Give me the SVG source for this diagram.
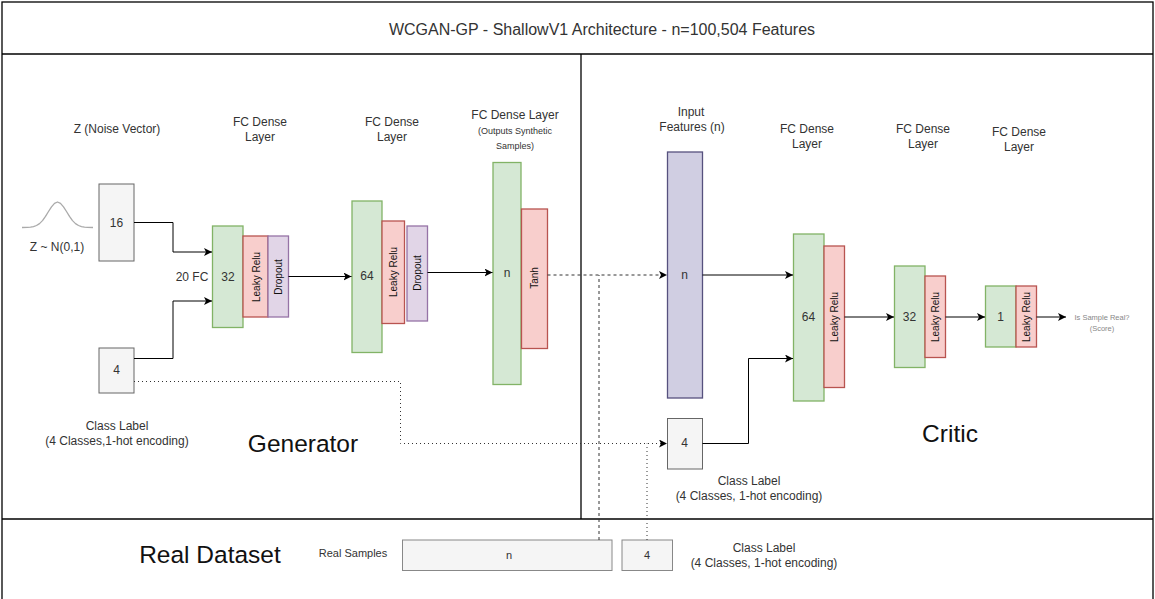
<svg xmlns="http://www.w3.org/2000/svg" width="1155" height="599" viewBox="0 0 1155 599">
<defs>
<style>
text{font-family:"Liberation Sans",Arial,sans-serif;fill:#333;dominant-baseline:central;text-anchor:middle}
.lbl{font-size:12px}
.sm{font-size:9px}
.big{font-size:24.5px;fill:#111}
.rot{font-size:10px;fill:#111}
.gray{fill:#f5f5f5;stroke:#666;stroke-width:1}
.green{fill:#d5e8d4;stroke:#82b366;stroke-width:1.3}
.red{fill:#f8cecc;stroke:#b85450;stroke-width:1.3}
.purple{fill:#e1d5e7;stroke:#9673a6;stroke-width:1.3}
.input{fill:#d0cee2;stroke:#56517e;stroke-width:1.3}
.frame{fill:none;stroke:#000;stroke-width:1.3}
.conn{fill:none;stroke:#000;stroke-width:1}
.dash{fill:none;stroke:#333;stroke-width:1;stroke-dasharray:3 3}
.dot{fill:none;stroke:#333;stroke-width:1;stroke-dasharray:1 3}
</style>
<marker id="arr" viewBox="0 0 10 10" refX="10" refY="5" markerWidth="8" markerHeight="8" markerUnits="userSpaceOnUse" orient="auto"><path d="M0,0 L10,5 L0,10 L2.5,5 Z" fill="#000"/></marker>
</defs>
<g id="frames">
<rect class="frame" x="2" y="2" width="1151" height="610"/>
<line class="frame" x1="2" y1="54" x2="1153" y2="54"/>
<line class="frame" x1="2" y1="519" x2="1153" y2="519"/>
<line class="frame" x1="581" y1="54" x2="581" y2="519"/>
<text x="602" y="29" style="font-size:16px">WCGAN-GP - ShallowV1 Architecture - n=100,504 Features</text>
<text class="big" x="303" y="443">Generator</text>
<text class="big" x="950" y="433">Critic</text>
<text class="big" x="210" y="554">Real Dataset</text>
</g>
<g id="gen-noise">
<polyline points="22,227.5 27.5,227.4 30.5,227.1 33.5,226.6 36.5,225.5 39.5,223.6 42.5,220.6 45.5,216.4 48.5,211.5 51.5,206.8 54.5,203.3 57.5,202 60.5,203.3 63.5,206.8 66.5,211.5 69.5,216.4 72.5,220.6 75.5,223.6 78.5,225.5 81.5,226.6 84.5,227.1 87.5,227.4 93,227.5" fill="none" stroke="#aaa" stroke-width="1.3" stroke-linejoin="round"/>
<text class="lbl" x="57" y="247">Z ~ N(0,1)</text>
<text class="lbl" x="117" y="129">Z (Noise Vector)</text>
<rect class="gray" x="99" y="184" width="35" height="77"/>
<text class="lbl" x="116.5" y="222.5">16</text>
</g>
<g id="gen-label">
<rect class="gray" x="99" y="348" width="35" height="45"/>
<text class="lbl" x="116.5" y="370">4</text>
<text class="lbl" x="117" y="426">Class Label</text>
<text class="lbl" x="117" y="441">(4 Classes,1-hot encoding)</text>
</g>
<g id="gen-fc1">
<text class="lbl" x="260" y="122">FC Dense</text>
<text class="lbl" x="260" y="137">Layer</text>
<text class="lbl" x="192" y="277">20 FC</text>
<rect class="green" x="212.5" y="226" width="30.5" height="101.5"/>
<text class="lbl" x="228" y="277">32</text>
<rect class="red" x="243" y="236" width="25" height="81"/>
<text class="rot" transform="translate(256 277) rotate(-90)">Leaky Relu</text>
<rect class="purple" x="268" y="236" width="20.5" height="81"/>
<text class="rot" transform="translate(278.5 277) rotate(-90)">Dropout</text>
</g>
<g id="gen-fc2">
<text class="lbl" x="392" y="122">FC Dense</text>
<text class="lbl" x="392" y="137">Layer</text>
<rect class="green" x="352" y="201" width="30" height="151.5"/>
<text class="lbl" x="367" y="276">64</text>
<rect class="red" x="382" y="221" width="22.5" height="102.5"/>
<text class="rot" transform="translate(393.5 272) rotate(-90)">Leaky Relu</text>
<rect class="purple" x="407" y="226" width="20.5" height="95"/>
<text class="rot" transform="translate(417.5 273) rotate(-90)">Dropout</text>
</g>
<g id="gen-fc3">
<text class="lbl" x="515" y="115">FC Dense Layer</text>
<text class="sm" x="515" y="131">(Outputs Synthetic</text>
<text class="sm" x="515" y="146">Samples)</text>
<rect class="green" x="493" y="162.5" width="28" height="222"/>
<text class="lbl" x="507" y="273">n</text>
<rect class="red" x="521.5" y="209" width="26" height="139.5"/>
<text class="rot" transform="translate(534.5 278) rotate(-90)">Tanh</text>
</g>
<g id="critic-input">
<text class="lbl" x="691" y="112">Input</text>
<text class="lbl" x="692" y="127">Features (n)</text>
<rect class="input" x="667.5" y="152" width="35" height="246"/>
<text class="lbl" x="684.5" y="275">n</text>
</g>
<g id="critic-label">
<rect class="gray" x="667.5" y="418.5" width="35" height="50.5"/>
<text class="lbl" x="684.5" y="443">4</text>
<text class="lbl" x="749" y="481">Class Label</text>
<text class="lbl" x="749" y="496">(4 Classes, 1-hot encoding)</text>
</g>
<g id="critic-fc1">
<text class="lbl" x="807" y="129">FC Dense</text>
<text class="lbl" x="807" y="144">Layer</text>
<rect class="green" x="793.5" y="234" width="30.5" height="167"/>
<text class="lbl" x="808.5" y="317">64</text>
<rect class="red" x="824" y="246" width="20.5" height="141.5"/>
<text class="rot" transform="translate(834.5 317) rotate(-90)">Leaky Relu</text>
</g>
<g id="critic-fc2">
<text class="lbl" x="923" y="129">FC Dense</text>
<text class="lbl" x="923" y="144">Layer</text>
<rect class="green" x="894.5" y="266" width="30.5" height="101.5"/>
<text class="lbl" x="909.5" y="317">32</text>
<rect class="red" x="925" y="276" width="20.5" height="81.5"/>
<text class="rot" transform="translate(935.5 317) rotate(-90)">Leaky Relu</text>
</g>
<g id="critic-fc3">
<text class="lbl" x="1019" y="132">FC Dense</text>
<text class="lbl" x="1019" y="147">Layer</text>
<rect class="green" x="985.5" y="286" width="30.5" height="61"/>
<text class="lbl" x="1000.5" y="317">1</text>
<rect class="red" x="1016" y="286" width="20.5" height="61"/>
<text class="rot" transform="translate(1026.5 317) rotate(-90)">Leaky Relu</text>
</g>
<g id="critic-output">
<text x="1102" y="317" style="font-size:7.5px;fill:#888">Is Sample Real?</text>
<text x="1102" y="328" style="font-size:7.5px;fill:#888">(Score)</text>
</g>
<g id="real-samples">
<text x="353" y="553" style="font-size:11px">Real Samples</text>
<rect x="402.5" y="540" width="209.5" height="30.5" fill="#f5f5f5" stroke="#888"/>
<text x="509" y="555" style="font-size:11px">n</text>
</g>
<g id="real-label">
<rect x="622" y="540" width="50.5" height="30.5" fill="#f5f5f5" stroke="#888"/>
<text x="647" y="555" style="font-size:11px">4</text>
<text class="lbl" x="764" y="548">Class Label</text>
<text class="lbl" x="764" y="563">(4 Classes, 1-hot encoding)</text>
</g>
<g id="connectors">
<path class="conn" d="M134,222.5 H173 V252 H212" marker-end="url(#arr)"/>
<path class="conn" d="M134,358.5 H173 V301 H212" marker-end="url(#arr)"/>
<path class="conn" d="M288.5,276.5 H351.5" marker-end="url(#arr)"/>
<path class="conn" d="M427.5,272.5 H492.5" marker-end="url(#arr)"/>
<path class="dash" d="M547.5,275 H667" marker-end="url(#arr)"/>
<path class="dash" d="M599,540 V275"/>
<path class="dot" d="M134,381.5 H400.5 V443.5 H667" marker-end="url(#arr)"/>
<path class="dot" d="M647,540 V443.5"/>
<path class="conn" d="M702.5,275 H793" marker-end="url(#arr)"/>
<path class="conn" d="M702.5,443.5 H748.5 V358.5 H793" marker-end="url(#arr)"/>
<path class="conn" d="M844.5,317 H894" marker-end="url(#arr)"/>
<path class="conn" d="M945.5,317 H985" marker-end="url(#arr)"/>
<path class="conn" d="M1036.5,317 H1066" marker-end="url(#arr)"/>
</g>
</svg>
